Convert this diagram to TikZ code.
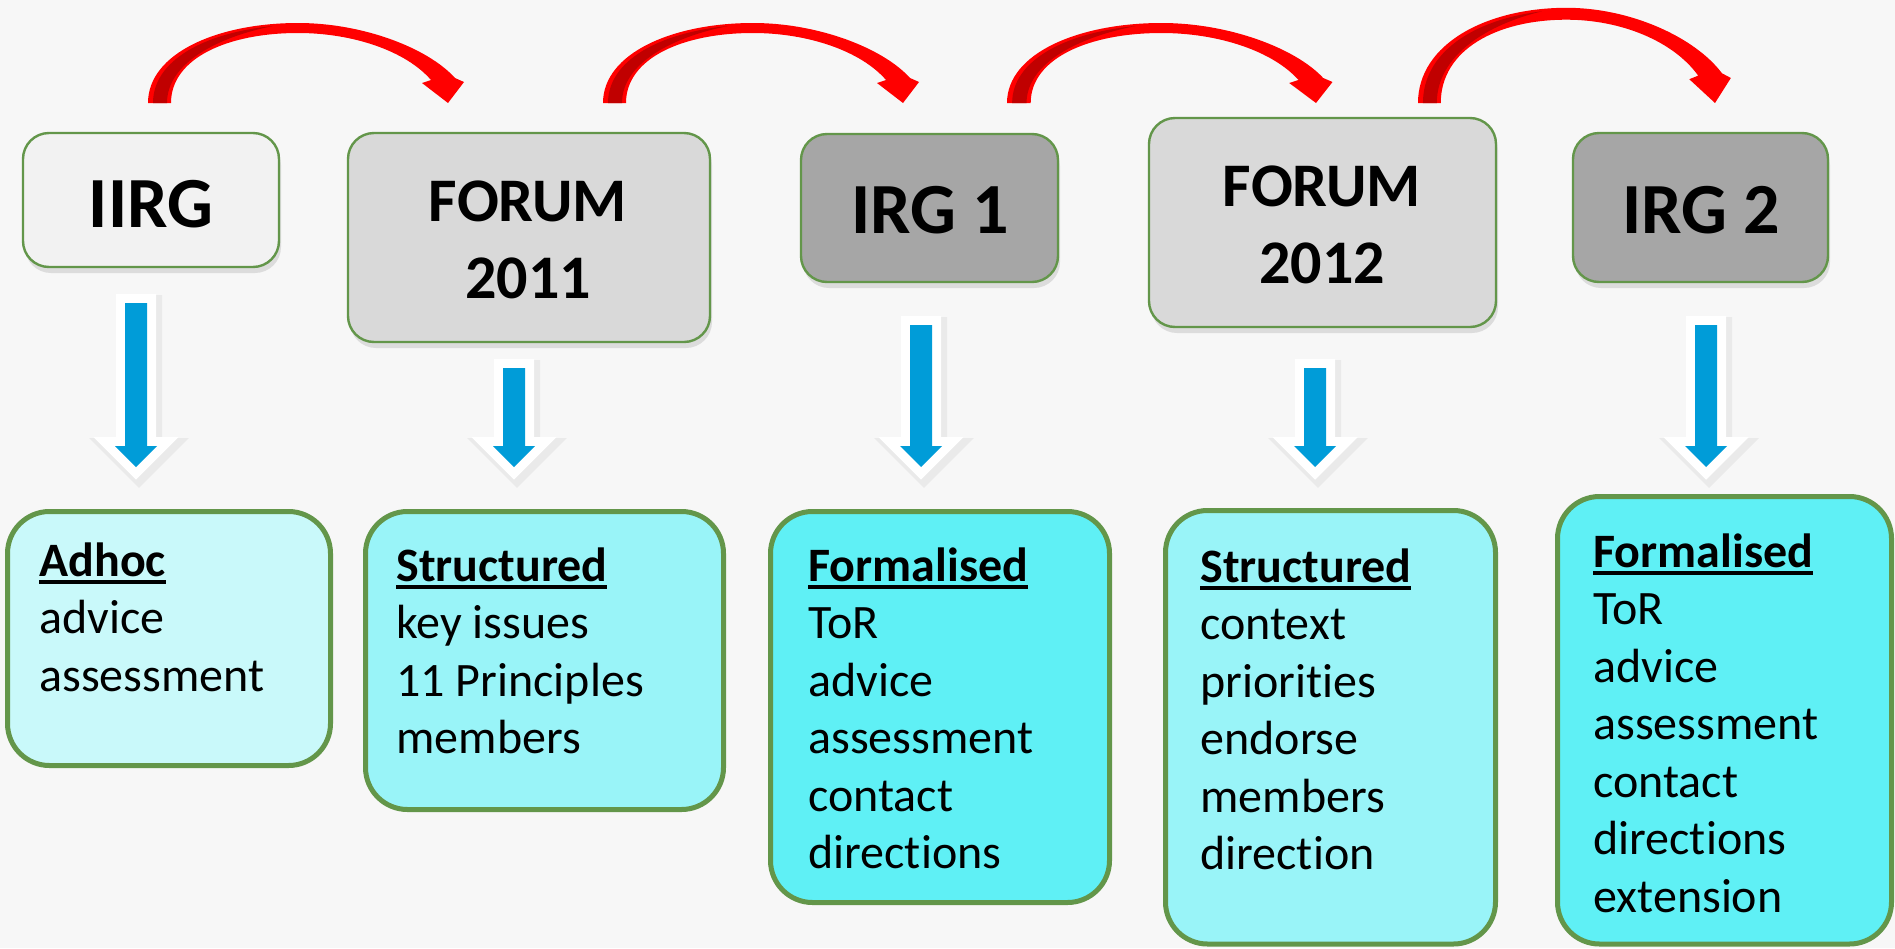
\documentclass[tikz,border=0pt]{standalone}
\usepackage{fontspec}
\setmainfont{Carlito}[Ligatures={NoCommon,NoRare,NoContextual}]
\usetikzlibrary{shadows}
\definecolor{bgcol}{HTML}{F7F7F7}
\definecolor{topA}{HTML}{F2F2F2}
\definecolor{topB}{HTML}{D9D9D9}
\definecolor{topC}{HTML}{A6A6A6}
\definecolor{boxgreen}{HTML}{63964A}
\definecolor{cyanA}{HTML}{C9F9FA}
\definecolor{cyanB}{HTML}{99F4F8}
\definecolor{cyanC}{HTML}{5FF0F5}
\definecolor{arrowblue}{HTML}{009CD8}
\definecolor{arrowred}{HTML}{FF0000}
\definecolor{darkred}{HTML}{C00000}
\newsavebox\ulbox
\newcommand\myul[1]{\sbox\ulbox{#1}\rlap{\rule[-4pt]{\wd\ulbox}{2pt}}\usebox\ulbox}
\tikzset{
  topbox/.style={draw=boxgreen, line width=1.2pt, rounded corners=13pt, inner sep=0pt,
    drop shadow={shadow xshift=1pt, shadow yshift=-3pt, opacity=0.18, fill=black!60}},
  lowbox/.style={draw=boxgreen, line width=2.5pt, rounded corners=21pt, inner sep=0pt},
  toptext/.style={inner sep=0pt, font=\bfseries\fontsize{36}{43}\selectfont},
  forumtext/.style={inner sep=0pt, align=center, font=\bfseries\fontsize{31}{38.5}\selectfont},
  lowtext/.style={inner sep=0pt, align=left, anchor=north west, font=\fontsize{24}{28.75}\selectfont},
}
\newcommand\bluearrow[2]{% #1 centre x, #2 top y of blue shaft
  \begin{scope}[shift={(#1,0)}]
    \draw[black!50, opacity=0.10, line width=12pt, line join=miter, transform canvas={xshift=1.5pt,yshift=-2pt}]
      (-11,#2) -- (11,#2) -- (11,446) -- (21,446) -- (0,467) -- (-21,446) -- (-11,446) -- cycle;
    \draw[white, line width=9pt, line join=miter]
      (-11,#2) -- (11,#2) -- (11,446) -- (21,446) -- (0,467) -- (-21,446) -- (-11,446) -- cycle;
    \fill[arrowblue]
      (-11,#2) -- (11,#2) -- (11,446) -- (21,446) -- (0,467) -- (-21,446) -- (-11,446) -- cycle;
  \end{scope}}
\newcommand\redarrow[3]{% #1 start x, #2 xscale, #3 yscale
  \begin{scope}[shift={(#1,103)}, xscale=#2, yscale=#3]
    \fill[arrowred] (0,0) .. controls (0,-50) and (70,-80) .. (150,-80)
      .. controls (215,-80) and (280,-55) .. (307,-25) -- (316,-21) -- (300,0) -- (274,-20) -- (283,-23)
      .. controls (258,-52) and (205,-70) .. (150,-70)
      .. controls (80,-70) and (23,-45) .. (23,0) -- cycle;
    \fill[darkred] (5,0) .. controls (5,-42) and (55,-70) .. (125,-77)
      .. controls (70,-66) and (19,-40) .. (19,0) -- cycle;
  \end{scope}}
\begin{document}
\begin{tikzpicture}[x=0.5pt, y=-0.5pt]
  \useasboundingbox (0,0) rectangle (1895,948);
  \fill[bgcol] (0,0) rectangle (1895,948);

  % curved red arrows
  \redarrow{148}{1.0}{1.0}
  \redarrow{603}{1.0}{1.0}
  \redarrow{1007}{1.03}{1.0}
  \redarrow{1418}{0.99}{1.19}

  % top boxes
  \node[topbox, fill=topA, minimum width=128pt, minimum height=67pt] (t1) at (151,200) {};
  \node[topbox, fill=topB, minimum width=181pt, minimum height=104.5pt] (t2) at (529,237.5) {};
  \node[topbox, fill=topC, minimum width=128.5pt, minimum height=74pt] (t3) at (929.5,208) {};
  \node[topbox, fill=topB, minimum width=173.5pt, minimum height=104.5pt] (t4) at (1322.5,222.5) {};
  \node[topbox, fill=topC, minimum width=127.5pt, minimum height=74.5pt] (t5) at (1700.5,207.5) {};

  \node[toptext, anchor=base] (t1txt) at (151,227) {IIRG};
  \node[forumtext, anchor=north] (t2txt) at (528,171.4) {\rule{0pt}{24.8pt}FORUM\\2011};
  \node[toptext, anchor=base] (t3txt) at (930,233) {IRG 1};
  \node[forumtext, anchor=north] (t4txt) at (1322,156.4) {\rule{0pt}{24.8pt}FORUM\\2012};
  \node[toptext, anchor=base] (t5txt) at (1701,233) {IRG 2};

  % blue down arrows
  \bluearrow{136}{303}
  \bluearrow{514}{368}
  \bluearrow{921}{325}
  \bluearrow{1315}{368}
  \bluearrow{1706}{325}

  % bottom boxes
  \node[lowbox, fill=cyanA, minimum width=161.5pt, minimum height=127pt] (b1) at (169,638.5) {};
  \node[lowbox, fill=cyanB, minimum width=179pt, minimum height=149pt] (b2) at (544.5,660.5) {};
  \node[lowbox, fill=cyanC, minimum width=169.5pt, minimum height=195.5pt] (b3) at (940,707) {};
  \node[lowbox, fill=cyanB, minimum width=165pt, minimum height=216.75pt] (b4) at (1330.5,727.25) {};
  \node[lowbox, fill=cyanC, minimum width=167pt, minimum height=223.75pt] (b5) at (1724.5,720.25) {};

  \node[lowtext] (b1txt) at (39,537.6) {\rule{0pt}{19.2pt}\myul{\textbf{Adhoc}}\\advice\\assessment};
  \node[lowtext] (b2txt) at (396,542.6) {\rule{0pt}{19.2pt}\myul{\textbf{Structured}}\\key issues\\11 Principles\\members};
  \node[lowtext] (b3txt) at (808,542.6) {\rule{0pt}{19.2pt}\myul{\textbf{Formalised}}\\ToR\\advice\\assessment\\contact\\directions};
  \node[lowtext] (b4txt) at (1200,543.6) {\rule{0pt}{19.2pt}\myul{\textbf{Structured}}\\context\\priorities\\endorse\\members\\direction};
  \node[lowtext] (b5txt) at (1593,528.6) {\rule{0pt}{19.2pt}\myul{\textbf{Formalised}}\\ToR\\advice\\assessment\\contact\\directions\\extension};
\end{tikzpicture}
\end{document}
